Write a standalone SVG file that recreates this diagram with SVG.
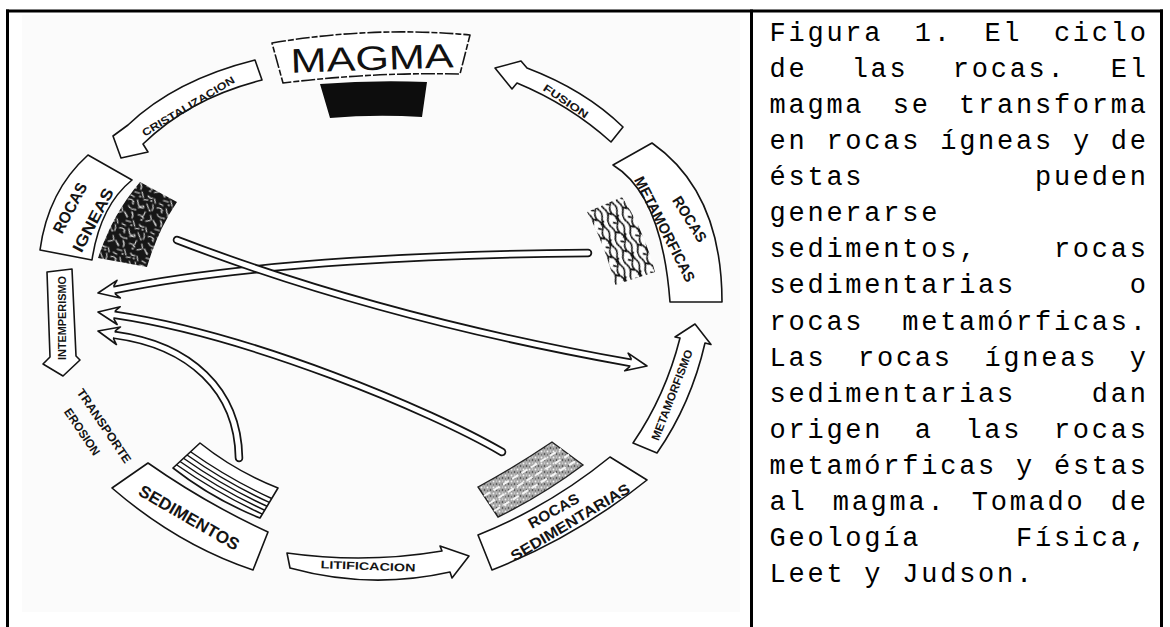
<svg xmlns="http://www.w3.org/2000/svg" width="1170" height="627" viewBox="0 0 1170 627">
  <style>
    .frame{stroke:#000;stroke-width:3;fill:none}
    .shape{fill:#fff;stroke:#141414;stroke-width:1.6;stroke-linejoin:round}
    .lbl{font-family:"Liberation Sans",Arial,sans-serif;font-weight:bold;fill:#141414;text-anchor:middle;dominant-baseline:central}
    .title{font-family:"Liberation Sans",Arial,sans-serif;font-weight:normal;fill:#111;text-anchor:middle;dominant-baseline:central}
    .band{fill:none;stroke:#141414;stroke-width:8.5;stroke-linecap:round}
    .band-in{fill:none;stroke:#fff;stroke-width:5;stroke-linecap:round}
    .stripe{fill:none;stroke:#141414;stroke-width:1.5}
    .cap{font-family:"Liberation Mono","Courier New",monospace;font-size:27px;letter-spacing:2.76px;fill:#000}
  </style>
  <defs>
    <!-- hollow arrowhead, tip at origin, pointing along +x -->
    <path id="head" class="shape" d="M0,0 L-21,-9 L-17,-4.25 L-17,4.25 L-21,9 Z"/>
    <pattern id="texIgnea" width="30" height="30" patternUnits="userSpaceOnUse" patternTransform="rotate(17)">
      <rect width="30" height="30" fill="#161616"/>
      <path d="M1,3 q3,-2 6,1 M10,1 l2,4 q1,2 4,1 M20,2 l3,4 M26,1 q2,3 1,6 M3,9 q2,3 6,2 M13,8 l5,-1 M21,10 l-1,5 M27,12 l2,4 M1,16 l4,4 M8,14 q3,3 2,6 M15,15 q3,-1 6,2 M24,19 l4,-2 M5,24 l5,0 M12,22 l3,5 M19,24 q2,2 5,1 M26,25 l2,4 M2,28 l4,1 M16,29 l4,-1" fill="none" stroke="#e6e6e6" stroke-width="1.1" stroke-linecap="round"/>
      <path d="M6,5 l1,1 M17,5 l1,1 M10,11 l1,0 M24,7 l1,1 M4,19 l1,1 M19,19 l1,0 M11,27 l1,0 M23,28 l1,0" stroke="#ddd" stroke-width="1.3" stroke-linecap="round"/>
    </pattern>
    <pattern id="texMeta" width="16" height="20" patternUnits="userSpaceOnUse" patternTransform="rotate(-22)">
      <rect width="16" height="20" fill="#fff"/>
      <path d="M2,0 q3,5 0,10 q-3,5 0,10 M8,0 q-3,5 1,10 q3,5 -1,10 M13,0 q2,4 -1,9 q-2,6 1,11 M3,5 l4,3 M9,14 l4,-3 M5,16 l3,2" fill="none" stroke="#111" stroke-width="1.6"/>
    </pattern>
    <pattern id="texSedi" width="6" height="6" patternUnits="userSpaceOnUse">
      <rect width="6" height="6" fill="#a8a8a8"/>
      <circle cx="1.5" cy="1.5" r="0.9" fill="#f2f2f2"/>
      <circle cx="4.5" cy="4" r="0.8" fill="#333"/>
      <circle cx="4.5" cy="1" r="0.6" fill="#eee"/>
      <circle cx="1.5" cy="4.8" r="0.6" fill="#555"/>
    </pattern>
  </defs>

  <rect width="1170" height="627" fill="#fff"/>
  <rect x="22" y="15" width="718" height="597" fill="#fbfbfb"/>

  <!-- table rules -->
  <g id="frame">
    <line class="frame" x1="6" y1="11" x2="1163" y2="11"/>
    <line class="frame" x1="7.5" y1="9.5" x2="7.5" y2="627"/>
    <line class="frame" x1="751.5" y1="9.5" x2="751.5" y2="627"/>
    <line class="frame" x1="1161.5" y1="9.5" x2="1161.5" y2="627"/>
  </g>

  <g id="magma">
    <path class="shape" stroke-dasharray="14 2 6 2" d="M272,43 Q372,26 470,35 L460,74 Q372,72 283,83 Z"/>
    <text class="title" font-size="34" textLength="163" lengthAdjust="spacingAndGlyphs" transform="translate(372,58) rotate(-2)">MAGMA</text>
    <path d="M320,84 Q372,80 427,82 L422,117 Q375,114 330,118 Z" fill="#0d0d0d"/>
  </g>

  <g id="rocas-igneas">
    <path class="shape" d="M88,155 L132,180 Q100,206 92,260 L40,250 Q48,191 88,155 Z"/>
    <text class="lbl" font-size="16" textLength="55" lengthAdjust="spacingAndGlyphs" transform="translate(70,208) rotate(-62)">ROCAS</text>
    <text class="lbl" font-size="16" textLength="70" lengthAdjust="spacingAndGlyphs" transform="translate(93,220) rotate(-62)">IGNEAS</text>
    <path d="M140,182 L177,202 Q158,230 147,267 L98,258 Q112,215 140,182 Z" fill="url(#texIgnea)"/>
  </g>

  <g id="rocas-metamorficas">
    <path class="shape" d="M613,165 L652,143 Q722,192 722,302 L670,302 Q662,195 613,165 Z"/>
    <text class="lbl" font-size="15" textLength="51" lengthAdjust="spacingAndGlyphs" transform="translate(690,219) rotate(58)">ROCAS</text>
    <text class="lbl" font-size="15" textLength="116" lengthAdjust="spacingAndGlyphs" transform="translate(665,229) rotate(63)">METAMORFICAS</text>
    <path d="M587,212 L622,197 Q644,230 655,272 L615,285 Q605,245 587,212 Z" fill="url(#texMeta)"/>
  </g>

  <g id="sedimentos">
    <path class="shape" d="M112,488 L148,463 Q205,503 268,532 L253,570 Q178,545 112,488 Z"/>
    <text class="lbl" font-size="17" textLength="113" lengthAdjust="spacingAndGlyphs" transform="translate(189,518) rotate(30)">SEDIMENTOS</text>
    <path class="shape" d="M200,443 Q235,471 278,488 L260,518 Q212.5,499 173,468 Z"/>
    <path class="stripe" d="M190.55,451.75 Q229.1,479.1 271.7,498.5 M187.04,455 Q226.2,482.7 269.36,502.4 M183.53,458.25 Q223.3,486.3 267.02,506.3 M180.02,461.5 Q220.4,489.9 264.68,510.2 M176.51,464.75 Q217.4,493.4 262.34,514.1"/>
  </g>

  <g id="rocas-sedimentarias">
    <path class="shape" d="M478,535 Q550,506 610,457 L647,480 Q576,537 492,570 Z"/>
    <text class="lbl" font-size="15" textLength="56" lengthAdjust="spacingAndGlyphs" transform="translate(553.5,510.5) rotate(-29)">ROCAS</text>
    <text class="lbl" font-size="15" textLength="136" lengthAdjust="spacingAndGlyphs" transform="translate(570,522) rotate(-31)">SEDIMENTARIAS</text>
    <path d="M478,487 Q515,467 552,442 L583,465 Q543,495 498,517 Z" fill="url(#texSedi)" stroke="#222" stroke-width="1.4"/>
    <path d="M484,496 L561.3,448.9 M489,503.5 L569,454.7 M494,511 L576.8,460.4" stroke="#f4f4f4" stroke-width="2" stroke-dasharray="7 4" fill="none"/>
  </g>

  <g id="transporte-erosion">
    <text class="lbl" font-size="12" textLength="87" lengthAdjust="spacingAndGlyphs" transform="translate(104,426) rotate(56)">TRANSPORTE</text>
    <text class="lbl" font-size="12" textLength="54" lengthAdjust="spacingAndGlyphs" transform="translate(82,432) rotate(56)">EROSION</text>
  </g>

  <g id="connectors">
    <!-- process arrows around the cycle -->
    <path class="shape" d="M255,60 L262,80 Q190,98 143,144 L148,152 L121,158 L113,136 L128,125 Q175,80 255,60 Z"/>
    <text class="lbl" font-size="10.5" textLength="106" lengthAdjust="spacingAndGlyphs" transform="translate(188,106) rotate(-31)">CRISTALIZACION</text>

    <path class="shape" d="M495,68 L521,61 L527,68 Q585,90 623,127 L611,142 Q570,105 517,83 L512,89 Z"/>
    <text class="lbl" font-size="10.5" textLength="52" lengthAdjust="spacingAndGlyphs" transform="translate(566,101) rotate(34)">FUSION</text>

    <path class="shape" d="M633,443 Q665.5,395.5 680,338 L675,337 L695,324 L711,344.5 L705,343 Q691,404 657,453 Z"/>
    <text class="lbl" font-size="11.5" textLength="96" lengthAdjust="spacingAndGlyphs" transform="translate(672,395) rotate(-69)">METAMORFISMO</text>

    <path class="shape" d="M287,553 Q365,564 442,551 L440,546 L469,556 L452,578 L450,572 Q370,590 290,568 Z"/>
    <text class="lbl" font-size="11" textLength="95" lengthAdjust="spacingAndGlyphs" transform="translate(368,566) rotate(2)">LITIFICACION</text>

    <path class="shape" d="M47,272 L72,269 L76,356 L80,360 L63,376 L43,364 L50,357 Z"/>
    <text class="lbl" font-size="11.5" textLength="84" lengthAdjust="spacingAndGlyphs" transform="translate(62,318) rotate(-90)">INTEMPERISMO</text>

    <!-- long transfer arrows -->
    <path class="band" d="M588,253 C450,254 250,262 114.7,289.9"/>
    <use href="#head" transform="translate(98,293) rotate(169.4)"/>
    <path class="band-in" d="M588,253 C450,254 250,262 114.7,289.9 L109.8,290.8"/>

    <path class="band" d="M502,452 C430,410 250,335 114.7,314.9"/>
    <use href="#head" transform="translate(98,312) rotate(189.9)"/>
    <path class="band-in" d="M502,452 C430,410 250,335 114.7,314.9 L109.8,314.1"/>

    <path class="band" d="M239,458 C238,390 190,345 114.5,334.9"/>
    <use href="#head" transform="translate(98,331) rotate(193)"/>
    <path class="band-in" d="M239,458 C238,390 190,345 114.5,334.9 L109.6,333.8"/>

    <path class="band" d="M177,240 Q380,318 630.3,362.8"/>
    <use href="#head" transform="translate(647,366) rotate(11)"/>
    <path class="band-in" d="M177,240 Q380,318 630.3,362.8 L635.2,363.7"/>
  </g>

  <g id="caption">
    <text class="cap"><tspan x="769.5" y="40.7">Figura</tspan><tspan x="914.86" y="40.7">1.</tspan><tspan x="984.38" y="40.7">El</tspan><tspan x="1053.9" y="40.7">ciclo</tspan></text>
    <text class="cap"><tspan x="769.5" y="76.8">de</tspan><tspan x="851.66" y="76.8">las</tspan><tspan x="952.78" y="76.8">rocas.</tspan><tspan x="1110.78" y="76.8">El</tspan></text>
    <text class="cap"><tspan x="769.5" y="112.9">magma</tspan><tspan x="892.74" y="112.9">se</tspan><tspan x="959.1" y="112.9">transforma</tspan></text>
    <text class="cap" x="769.5" y="149">en rocas ígneas y de</text>
    <text class="cap"><tspan x="769.5" y="185.1">éstas</tspan><tspan x="1034.94" y="185.1">pueden</tspan></text>
    <text class="cap" x="769.5" y="221.2">generarse</text>
    <text class="cap"><tspan x="769.5" y="257.3">sedimentos,</tspan><tspan x="1053.9" y="257.3">rocas</tspan></text>
    <text class="cap"><tspan x="769.5" y="293.4">sedimentarias</tspan><tspan x="1129.74" y="293.4">o</tspan></text>
    <text class="cap"><tspan x="769.5" y="329.5">rocas</tspan><tspan x="902.22" y="329.5">metamórficas.</tspan></text>
    <text class="cap"><tspan x="769.5" y="365.6">Las</tspan><tspan x="857.98" y="365.6">rocas</tspan><tspan x="984.38" y="365.6">ígneas</tspan><tspan x="1129.74" y="365.6">y</tspan></text>
    <text class="cap"><tspan x="769.5" y="401.7">sedimentarias</tspan><tspan x="1091.82" y="401.7">dan</tspan></text>
    <text class="cap"><tspan x="769.5" y="437.8">origen</tspan><tspan x="914.86" y="437.8">a</tspan><tspan x="965.42" y="437.8">las</tspan><tspan x="1053.9" y="437.8">rocas</tspan></text>
    <text class="cap" x="769.5" y="473.9">metamórficas y éstas</text>
    <text class="cap"><tspan x="769.5" y="510">al</tspan><tspan x="832.7" y="510">magma.</tspan><tspan x="971.74" y="510">Tomado</tspan><tspan x="1110.78" y="510">de</tspan></text>
    <text class="cap"><tspan x="769.5" y="546.1">Geología</tspan><tspan x="1015.98" y="546.1">Física,</tspan></text>
    <text class="cap" x="769.5" y="582.2">Leet y Judson.</text>
  </g>
</svg>
